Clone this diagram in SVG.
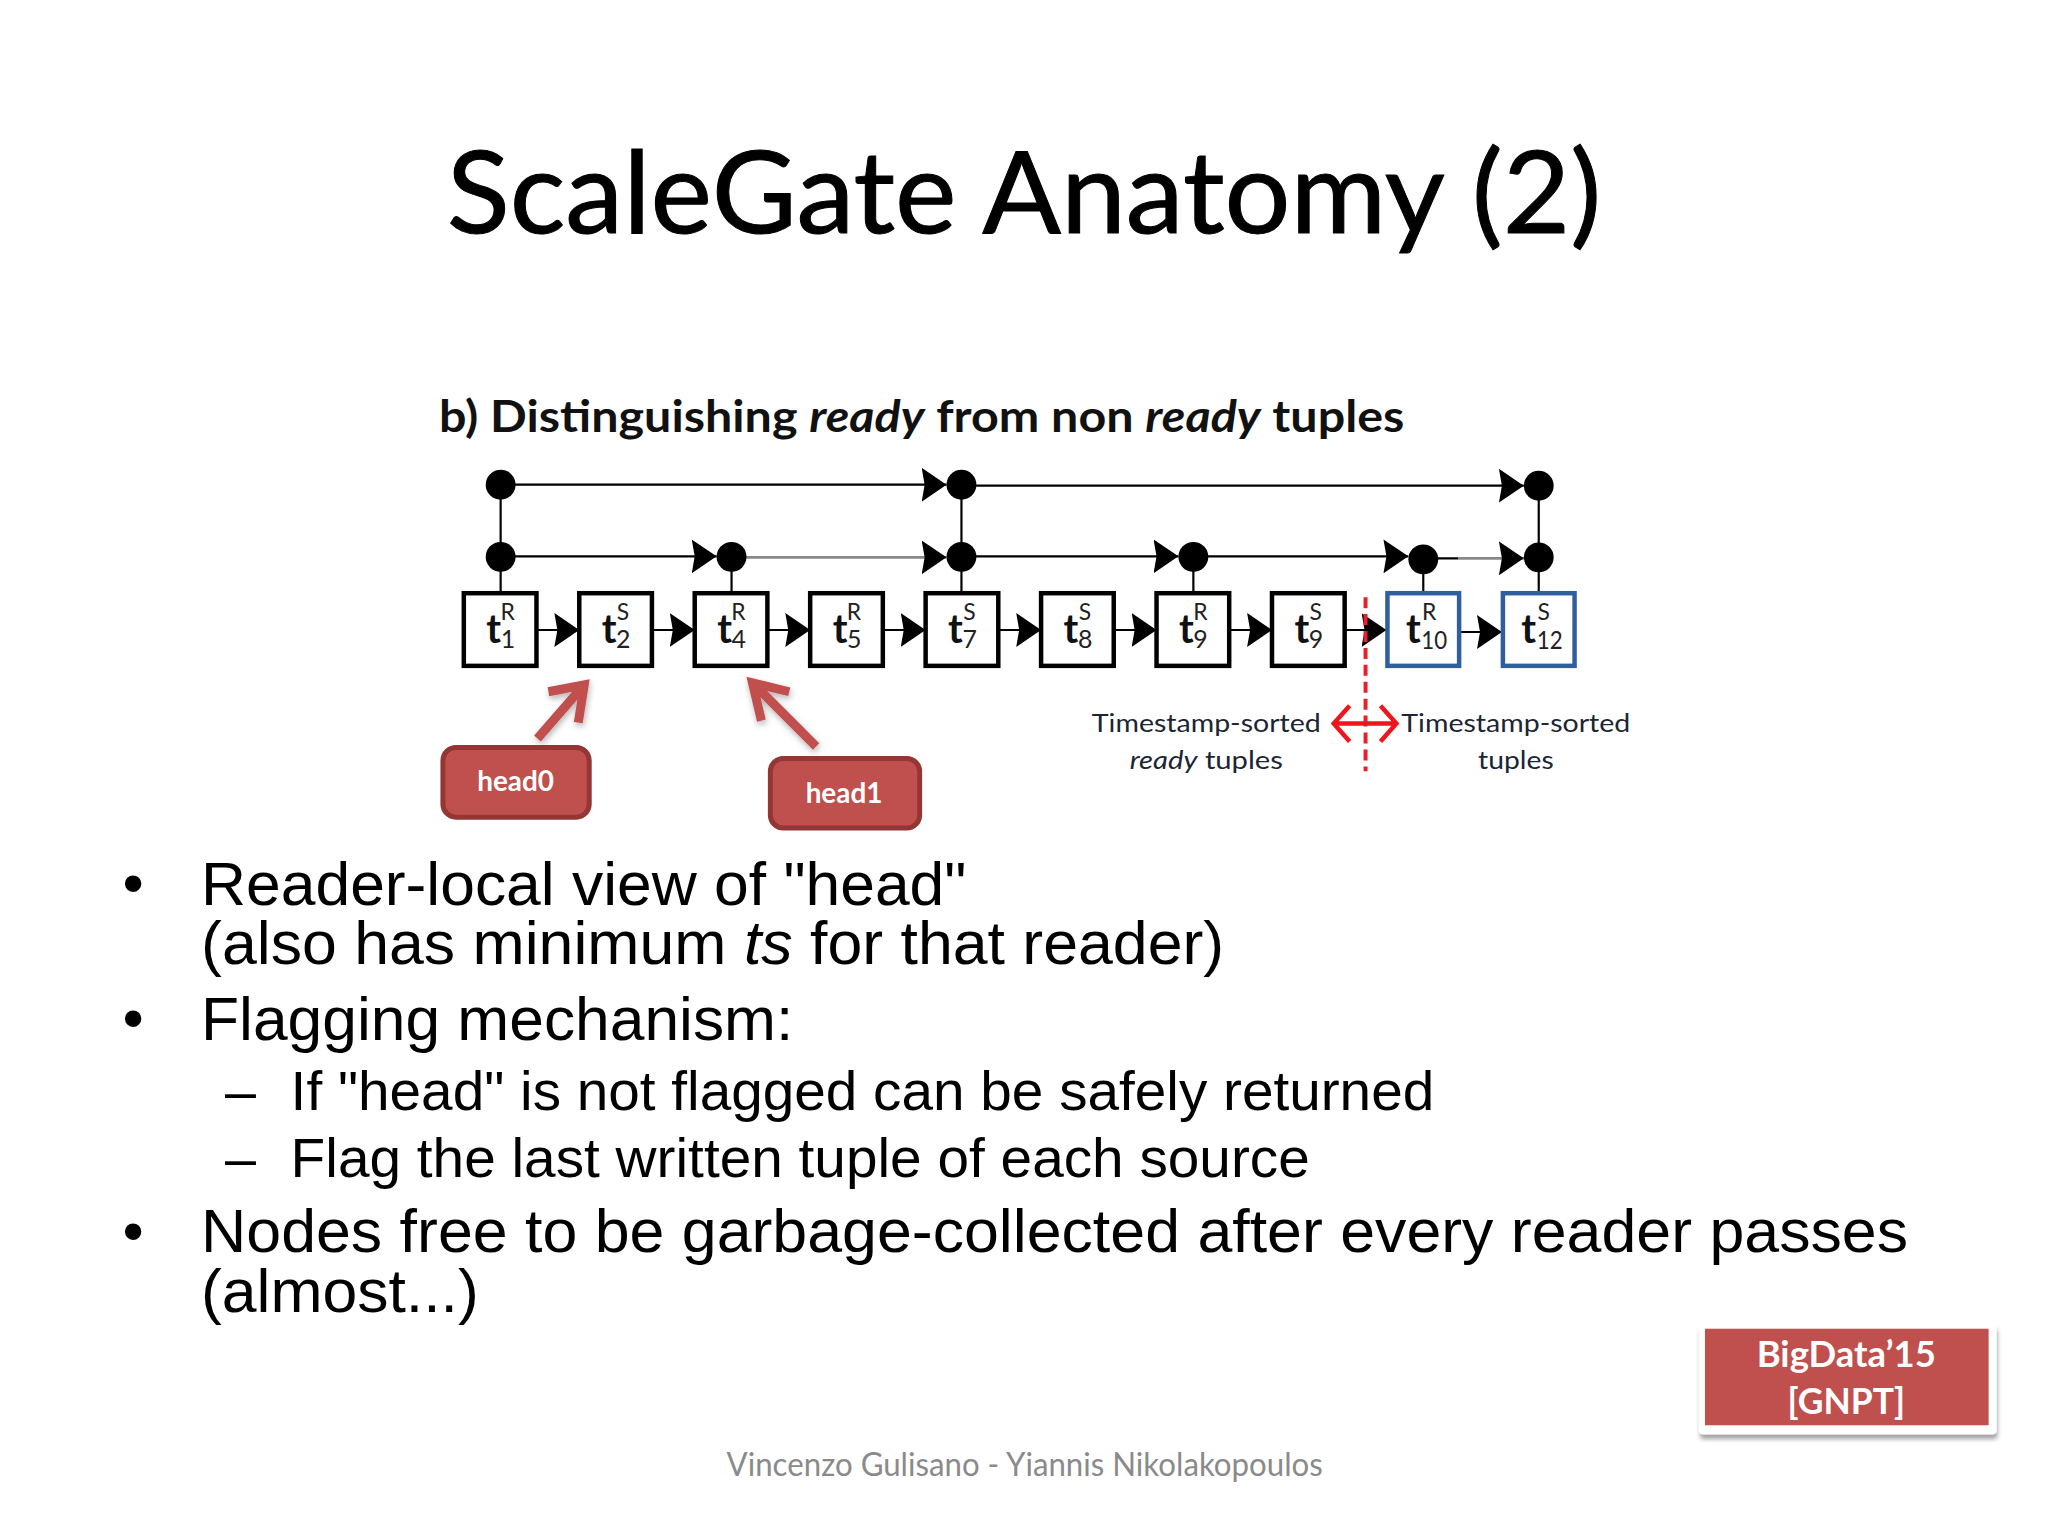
<svg xmlns="http://www.w3.org/2000/svg" width="2048" height="1536" viewBox="0 0 2048 1536">
<style>
.cal{font-family:"Lato","Liberation Sans",sans-serif}
.ar{font-family:"Liberation Sans",Arial,sans-serif;font-size:61px;fill:#000}
.ar2{font-size:56px}
.box{fill:#fff;stroke:#000;stroke-width:4.5}
.blue{stroke:#2f5f9e}
.t{font-family:"Lato",sans-serif;font-weight:700;font-size:40px;fill:#111;text-anchor:middle}
.sup{font-family:"Lato",sans-serif;font-size:23px;fill:#222;text-anchor:middle}
.sub{font-family:"Lato",sans-serif;font-size:25px;fill:#222;text-anchor:start}
.ln{stroke:#000;stroke-width:2.2;fill:none}
.gr{stroke:#888;stroke-width:2.6;fill:none}
.dot{fill:#000}
.lbl{font-family:"Lato",sans-serif;font-size:26px;fill:#1b2533;text-anchor:middle}
.hd{fill:#c0504d;stroke:#943634;stroke-width:5}
.hdt{font-family:"Lato",sans-serif;font-weight:700;font-size:28px;fill:#fff;text-anchor:middle}
.ra{fill:none;stroke:#c0504d;stroke-width:9}
</style>
<defs>
<marker id="ah" markerUnits="userSpaceOnUse" markerWidth="26" markerHeight="34" refX="25" refY="17" orient="auto"><path d="M0,0 L25,17 L0,34 L3,17 Z" fill="#000"/></marker>
<filter id="sh" x="-30%" y="-30%" width="160%" height="160%"><feDropShadow dx="1" dy="3" stdDeviation="3" flood-color="#000" flood-opacity=".3"/></filter>
<filter id="sh2" x="-5%" y="-10%" width="110%" height="125%"><feDropShadow dx="1" dy="5" stdDeviation="2" flood-color="#000" flood-opacity=".35"/></filter>
</defs>
<rect width="2048" height="1536" fill="#fff"/>
<g id="slide" transform="scale(.9953)">
<text id="title" class="cal" x="449" y="234" font-size="115" fill="#000" stroke="#000" stroke-width="1" textLength="1160" lengthAdjust="spacingAndGlyphs">ScaleGate Anatomy (2)</text>
<text id="subtitle" class="cal" x="441" y="434" font-size="44" font-weight="700" fill="#111" textLength="970" lengthAdjust="spacingAndGlyphs">b) Distinguishing <tspan font-style="italic">ready</tspan> from non <tspan font-style="italic">ready</tspan> tuples</text>

<g id="connectors">
<path class="ln" d="M503,487V596M966,487V596M1546,487V596M735,559V596M1199,559V596M1430,560V596"/>
<line class="ln" x1="503" y1="487" x2="951" y2="487" marker-end="url(#ah)"/>
<line class="ln" x1="966" y1="488" x2="1531" y2="488" marker-end="url(#ah)"/>
<line class="ln" x1="503" y1="559" x2="720" y2="559" marker-end="url(#ah)"/>
<line class="gr" x1="735" y1="560" x2="951" y2="560" marker-end="url(#ah)"/>
<line class="ln" x1="966" y1="559" x2="1184" y2="559" marker-end="url(#ah)"/>
<line class="ln" x1="1199" y1="559" x2="1415" y2="559" marker-end="url(#ah)"/>
<line class="ln" x1="1430" y1="561" x2="1465" y2="561"/>
<line class="gr" x1="1465" y1="561" x2="1531" y2="561" marker-end="url(#ah)"/>
<line class="ln" x1="540" y1="633" x2="582" y2="633" marker-end="url(#ah)"/>
<line class="ln" x1="656" y1="633" x2="698" y2="633" marker-end="url(#ah)"/>
<line class="ln" x1="772" y1="633" x2="814" y2="633" marker-end="url(#ah)"/>
<line class="ln" x1="888" y1="633" x2="930" y2="633" marker-end="url(#ah)"/>
<line class="ln" x1="1004" y1="633" x2="1046" y2="633" marker-end="url(#ah)"/>
<line class="ln" x1="1120" y1="633" x2="1162" y2="633" marker-end="url(#ah)"/>
<line class="ln" x1="1236" y1="633" x2="1278" y2="633" marker-end="url(#ah)"/>
<line class="ln" x1="1351" y1="633" x2="1393" y2="633" marker-end="url(#ah)"/>
<line class="ln" x1="1467" y1="635" x2="1509" y2="635" marker-end="url(#ah)"/>
<g filter="url(#sh)">
<path class="ra" d="M540,742L587,688M551,695L587,688L581,726"/>
<path class="ra" d="M820,750L756,686M793,695L756,686L765,724"/>
</g>
<line x1="1372" y1="600" x2="1372" y2="775" stroke="#e8202a" stroke-width="4" stroke-dasharray="11,6"/>
<path d="M1340,727H1403M1356,709L1340,727L1356,745M1387,709L1403,727L1387,745" fill="none" stroke="#f0141e" stroke-width="4.5"/>
</g>

<g id="dots">
<circle class="dot" cx="503" cy="487" r="15"/><circle class="dot" cx="966" cy="487" r="15"/><circle class="dot" cx="1546" cy="488" r="15"/>
<circle class="dot" cx="503" cy="559.5" r="15"/><circle class="dot" cx="735" cy="559.5" r="15"/><circle class="dot" cx="966" cy="559.5" r="15"/>
<circle class="dot" cx="1199" cy="559.5" r="15"/><circle class="dot" cx="1430" cy="562" r="15"/><circle class="dot" cx="1546" cy="560" r="15"/>
</g>

<g id="t1"><rect class="box" x="466" y="596" width="73" height="73"/><text class="t" x="496" y="646">t</text><text class="sup" x="510" y="623">R</text><text class="sub" x="503" y="651">1</text></g>
<g id="t2"><rect class="box" x="582" y="596" width="73" height="73"/><text class="t" x="612" y="646">t</text><text class="sup" x="626" y="623">S</text><text class="sub" x="619" y="651">2</text></g>
<g id="t4"><rect class="box" x="698" y="596" width="73" height="73"/><text class="t" x="728" y="646">t</text><text class="sup" x="742" y="623">R</text><text class="sub" x="735" y="651">4</text></g>
<g id="t5"><rect class="box" x="814" y="596" width="73" height="73"/><text class="t" x="844" y="646">t</text><text class="sup" x="858" y="623">R</text><text class="sub" x="851" y="651">5</text></g>
<g id="t7"><rect class="box" x="930" y="596" width="73" height="73"/><text class="t" x="960" y="646">t</text><text class="sup" x="974" y="623">S</text><text class="sub" x="967" y="651">7</text></g>
<g id="t8"><rect class="box" x="1046" y="596" width="73" height="73"/><text class="t" x="1076" y="646">t</text><text class="sup" x="1090" y="623">S</text><text class="sub" x="1083" y="651">8</text></g>
<g id="t9r"><rect class="box" x="1162" y="596" width="73" height="73"/><text class="t" x="1192" y="646">t</text><text class="sup" x="1206" y="623">R</text><text class="sub" x="1199" y="651">9</text></g>
<g id="t9s"><rect class="box" x="1278" y="596" width="73" height="73"/><text class="t" x="1308" y="646">t</text><text class="sup" x="1322" y="623">S</text><text class="sub" x="1315" y="651">9</text></g>
<g id="t10"><rect class="box blue" x="1394" y="596" width="72" height="73"/><text class="t" x="1420" y="646">t</text><text class="sup" x="1436" y="623">R</text><text class="sub" x="1428" y="652" textLength="26" lengthAdjust="spacingAndGlyphs">10</text></g>
<g id="t12"><rect class="box blue" x="1510" y="596" width="72" height="73"/><text class="t" x="1536" y="646">t</text><text class="sup" x="1551" y="623">S</text><text class="sub" x="1544" y="652" textLength="26" lengthAdjust="spacingAndGlyphs">12</text></g>

<g id="label-ready"><text class="lbl" x="1212" y="735" textLength="230" lengthAdjust="spacingAndGlyphs">Timestamp-sorted</text><text class="lbl" x="1212" y="773" textLength="154" lengthAdjust="spacingAndGlyphs"><tspan font-style="italic">ready</tspan> tuples</text></g>
<g id="label-all"><text class="lbl" x="1523" y="735" textLength="230" lengthAdjust="spacingAndGlyphs">Timestamp-sorted</text><text class="lbl" x="1523" y="773" textLength="76" lengthAdjust="spacingAndGlyphs">tuples</text></g>

<g id="head0"><rect class="hd" x="445" y="751" width="147" height="70" rx="13"/><text class="hdt" x="518" y="795">head0</text></g>
<g id="head1"><rect class="hd" x="774" y="762" width="150" height="70" rx="13"/><text class="hdt" x="848" y="807">head1</text></g>

<g id="bullets">
<text class="ar" x="123" y="908">•</text>
<text class="ar" x="202" y="909" textLength="769" lengthAdjust="spacingAndGlyphs">Reader-local view of "head"</text>
<text class="ar" x="202" y="969" textLength="1028" lengthAdjust="spacingAndGlyphs">(also has minimum <tspan font-style="italic">ts</tspan> for that reader)</text>
<text class="ar" x="123" y="1044">•</text>
<text class="ar" x="202" y="1045" textLength="595" lengthAdjust="spacingAndGlyphs">Flagging mechanism:</text>
<text class="ar ar2" x="226" y="1115">–</text>
<text class="ar ar2" x="292" y="1115" textLength="1149" lengthAdjust="spacingAndGlyphs">If "head" is not flagged can be safely returned</text>
<text class="ar ar2" x="226" y="1183">–</text>
<text class="ar ar2" x="292" y="1183" textLength="1024" lengthAdjust="spacingAndGlyphs">Flag the last written tuple of each source</text>
<text class="ar" x="123" y="1258">•</text>
<text class="ar" x="202" y="1258" textLength="1715" lengthAdjust="spacingAndGlyphs">Nodes free to be garbage-collected after every reader passes</text>
<text class="ar" x="202" y="1318" textLength="279" lengthAdjust="spacingAndGlyphs">(almost...)</text>
</g>

<g id="badge">
<rect x="1707" y="1330" width="299" height="111" rx="4" fill="#fff" filter="url(#sh2)"/>
<rect x="1713" y="1335" width="285" height="97" fill="#c0504d"/>
<text class="cal" x="1855" y="1373" font-size="37" font-weight="700" fill="#fff" text-anchor="middle" textLength="180" lengthAdjust="spacingAndGlyphs">BigData’15</text>
<text class="cal" x="1855" y="1421" font-size="37" font-weight="700" fill="#fff" text-anchor="middle" textLength="118" lengthAdjust="spacingAndGlyphs">[GNPT]</text>
</g>
<text id="footer" class="cal" x="730" y="1483" font-size="32" fill="#8a8a8a" textLength="599" lengthAdjust="spacingAndGlyphs">Vincenzo Gulisano - Yiannis Nikolakopoulos</text>
</g>
</svg>
